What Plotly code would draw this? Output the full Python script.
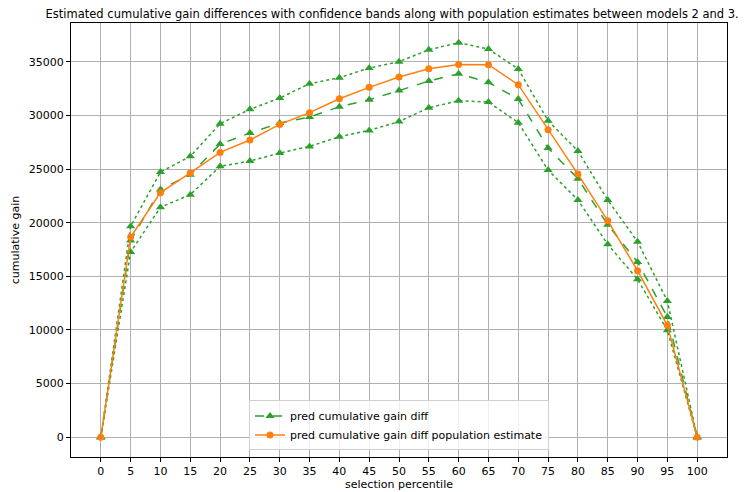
import plotly.graph_objects as go

percentiles = [0, 5, 10, 15, 20, 25, 30, 35, 40, 45, 50, 55, 60, 65, 70, 75, 80, 85, 90, 95, 100]
gain_diff = [0, 18350, 23100, 24470, 27330, 28350, 29285, 29845, 30800, 31460, 32310,
             33200, 33880, 33075, 31520, 26960, 24100, 19800, 16335, 11210, 0]
gain_upper = [0, 19660, 24720, 26180, 29220, 30560, 31615, 32950, 33510, 34410, 35000,
              36120, 36770, 36180, 34320, 29500, 26680, 22110, 18230, 12700, 0]
gain_lower = [0, 17270, 21430, 22610, 25250, 25745, 26490, 27110, 28010, 28600, 29420,
              30710, 31370, 31240, 29320, 24900, 22110, 17980, 14720, 9970, 0]
pop_estimate = [0, 18660, 22800, 24630, 26550, 27700, 29160, 30250, 31550, 32610, 33580,
                34350, 34750, 34720, 32860, 28660, 24530, 20190, 15530, 10435, 0]
y_ticks = [0, 5000, 10000, 15000, 20000, 25000, 30000, 35000]
y_tick_labels = ["0", "5000", "10000", "15000", "20000", "25000", "30000", "35000"]

GREEN = "#2ca02c"
ORANGE = "#ff7f0e"

fig = go.Figure()
for band in (gain_upper, gain_lower):
    fig.add_trace(go.Scatter(
        x=percentiles, y=band, mode="lines+markers", showlegend=False,
        line=dict(color=GREEN, dash="dot", width=1.5),
        marker=dict(symbol="triangle-up", size=8, color=GREEN),
        hoverinfo="skip"))
fig.add_trace(go.Scatter(
    x=percentiles, y=gain_diff, mode="lines+markers", name="pred cumulative gain diff",
    line=dict(color=GREEN, dash="dash", width=1.5),
    marker=dict(symbol="triangle-up", size=8, color=GREEN)))
fig.add_trace(go.Scatter(
    x=percentiles, y=pop_estimate, mode="lines+markers",
    name="pred cumulative gain diff population estimate",
    line=dict(color=ORANGE, width=1.5),
    marker=dict(symbol="circle", size=7, color=ORANGE)))

axis_common = dict(
    showline=True, linecolor="black", linewidth=1, mirror=True,
    ticks="outside", ticklen=4, tickcolor="black",
    showgrid=True, gridcolor="#b0b0b0", gridwidth=1, zeroline=False,
    tickfont=dict(size=11, color="black"), automargin=False,
)

fig.update_layout(
    width=746, height=484,
    margin=dict(l=63, r=27, t=15, b=35),
    paper_bgcolor="white", plot_bgcolor="white",
    font=dict(family="DejaVu Sans", color="black", size=11),
    title=dict(
        text="Estimated cumulative gain differences with confidence bands along with population estimates between models 2 and 3.",
        x=0.515, xanchor="center", y=0.996, yanchor="top", font=dict(size=11.5)),
    xaxis=dict(axis_common, range=[-5, 105], tickmode="array", tickvals=percentiles,
               title=dict(text="selection percentile", standoff=2, font=dict(size=11))),
    yaxis=dict(axis_common, range=[-1838, 38608], tickmode="array",
               tickvals=y_ticks, ticktext=y_tick_labels,
               title=dict(text="cumulative gain", standoff=6, font=dict(size=11))),
    legend=dict(x=0.5, xanchor="center", y=0.015, yanchor="bottom",
                bgcolor="rgba(255,255,255,0.8)", bordercolor="#d0d0d0", borderwidth=1,
                font=dict(size=11), tracegroupgap=0, itemwidth=30),
    showlegend=True,
)

fig.write_html("out.html")
